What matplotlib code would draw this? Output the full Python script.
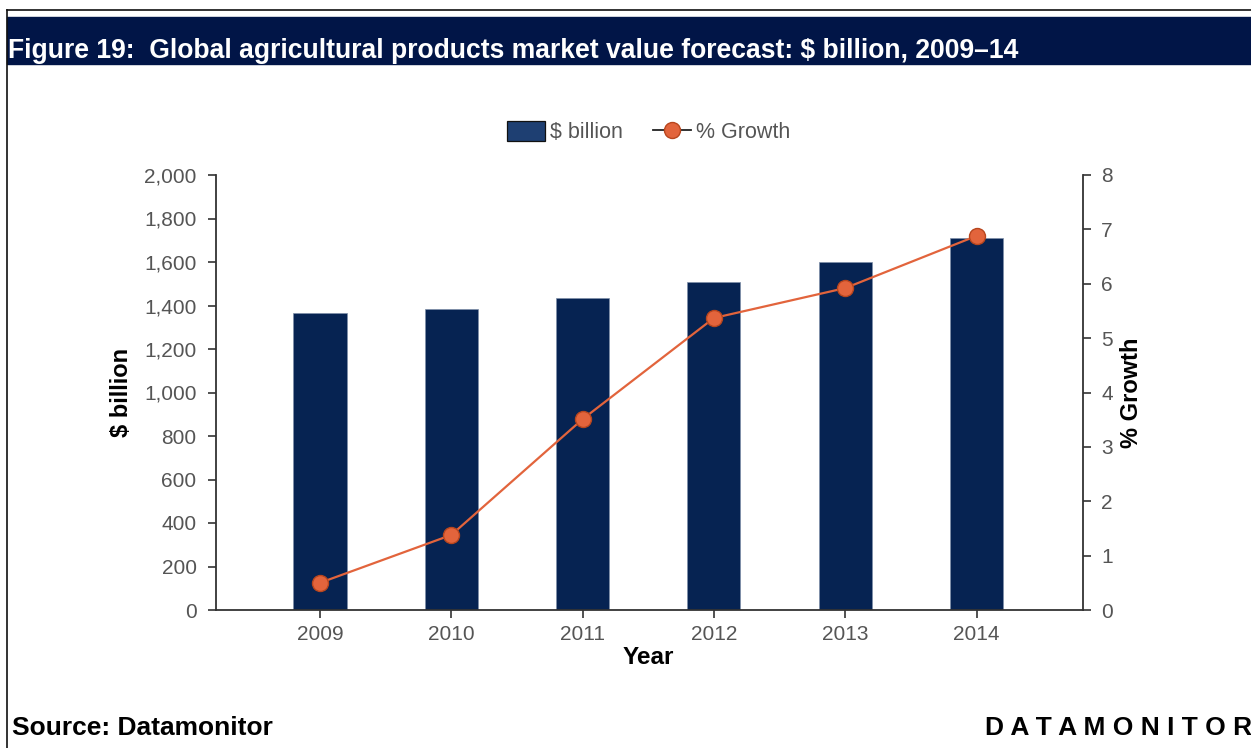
import matplotlib.pyplot as plt
import matplotlib.patches as mpatches
from matplotlib.lines import Line2D
from matplotlib.ticker import FuncFormatter

years = ['2009', '2010', '2011', '2012', '2013', '2014']
value_bn = [1366, 1385, 1433, 1510, 1599, 1709]
growth_pct = [0.50, 1.38, 3.51, 5.37, 5.92, 6.88]

navy = '#062352'
orange = '#e2643c'
tick_grey = '#555555'

W, H = 1251, 748
plt.rcParams['font.family'] = ['Liberation Sans', 'DejaVu Sans']

fig = plt.figure(figsize=(W / 100, H / 100), dpi=100)

# page frame and title band
fig.add_artist(Line2D([7 / W, 1], [1 - 10 / H, 1 - 10 / H], color='#111111', lw=1.2))
fig.add_artist(Line2D([7 / W, 7 / W], [0, 1 - 10 / H], color='#111111', lw=1.2))
fig.add_artist(mpatches.Rectangle((7 / W, 1 - 64 / H), 1, 47 / H,
                                  color='#011547', transform=fig.transFigure, zorder=0))
fig.text(8 / W, 1 - 48 / H,
         'Figure 19:  Global agricultural products market value forecast: $ billion, 2009\u201314',
         color='white', fontsize=19.1, fontweight='bold', va='center_baseline', ha='left')

ax = fig.add_axes([216 / W, 1 - 610 / H, (1083 - 216) / W, (610 - 175) / H])
x = list(range(len(years)))
ax.bar(x, value_bn, width=0.404, color=navy, edgecolor='#7f8fa8', linewidth=0.5, zorder=2)
ax.set_xlim(-0.792, 5.811)
ax.set_ylim(0, 2000)
ax.set_yticks(range(0, 2001, 200))
ax.yaxis.set_major_formatter(FuncFormatter(lambda v, p: f'{int(v):,}'))
ax.set_xticks(x)
ax.set_xticklabels(years)

ax2 = ax.twinx()
ax2.plot(x, growth_pct, color=orange, lw=1.6, marker='o', markersize=11.5,
         markerfacecolor=orange, markeredgecolor='#b8461e', markeredgewidth=1, zorder=3)
ax2.set_ylim(0, 8)
ax2.set_yticks(range(0, 9))

for a in (ax, ax2):
    a.spines['top'].set_visible(False)
    for s in a.spines.values():
        s.set_color('#333333')
        s.set_linewidth(1.3)
    a.tick_params(colors='#333333', labelcolor=tick_grey, labelsize=15, length=6, width=1.2)
ax.spines['right'].set_visible(False)
ax2.spines['left'].set_visible(False)
ax2.spines['bottom'].set_visible(False)
ax.tick_params(axis='y', pad=8)
ax2.tick_params(axis='y', pad=7)
ax.tick_params(axis='x', pad=5)

ax.set_ylabel('$ billion', fontsize=17, fontweight='bold', va='center')
ax.yaxis.set_label_coords((121 - 216) / (1083 - 216), 0.5)
ax2.set_ylabel('% Growth', fontsize=17, fontweight='bold', va='center')
ax2.yaxis.set_label_coords((1131 - 216) / (1083 - 216), 0.5)
ax.set_xlabel('Year', fontsize=17.5, fontweight='bold')
ax.xaxis.set_label_coords((648 - 216) / (1083 - 216), -(658 - 610) / (610 - 175))
ax.xaxis.label.set_va('center')

handles = [mpatches.Patch(facecolor='#1e3f72', edgecolor='#111111', lw=0.9, label='$ billion'),
           Line2D([], [], color='#222222', lw=1.3, marker='o', markersize=11.5,
                  markerfacecolor=orange, markeredgecolor='#b8461e', label='% Growth')]
fig.legend(handles=handles, loc='center', bbox_to_anchor=(649 / W, 1 - 132 / H),
           ncol=2, frameon=False, fontsize=15.5, handlelength=1.75, handleheight=1.1,
           columnspacing=1.4, handletextpad=0.25, labelcolor=tick_grey)

fig.text(12 / W, 1 - 728 / H, 'Source: Datamonitor', fontsize=19,
         fontweight='bold', va='center', ha='left')
fig.text(1252 / W, 1 - 728 / H, 'D A T A M O N I T O R', fontsize=19,
         fontweight='bold', va='center', ha='right')

fig.savefig('out.png', dpi=100)
